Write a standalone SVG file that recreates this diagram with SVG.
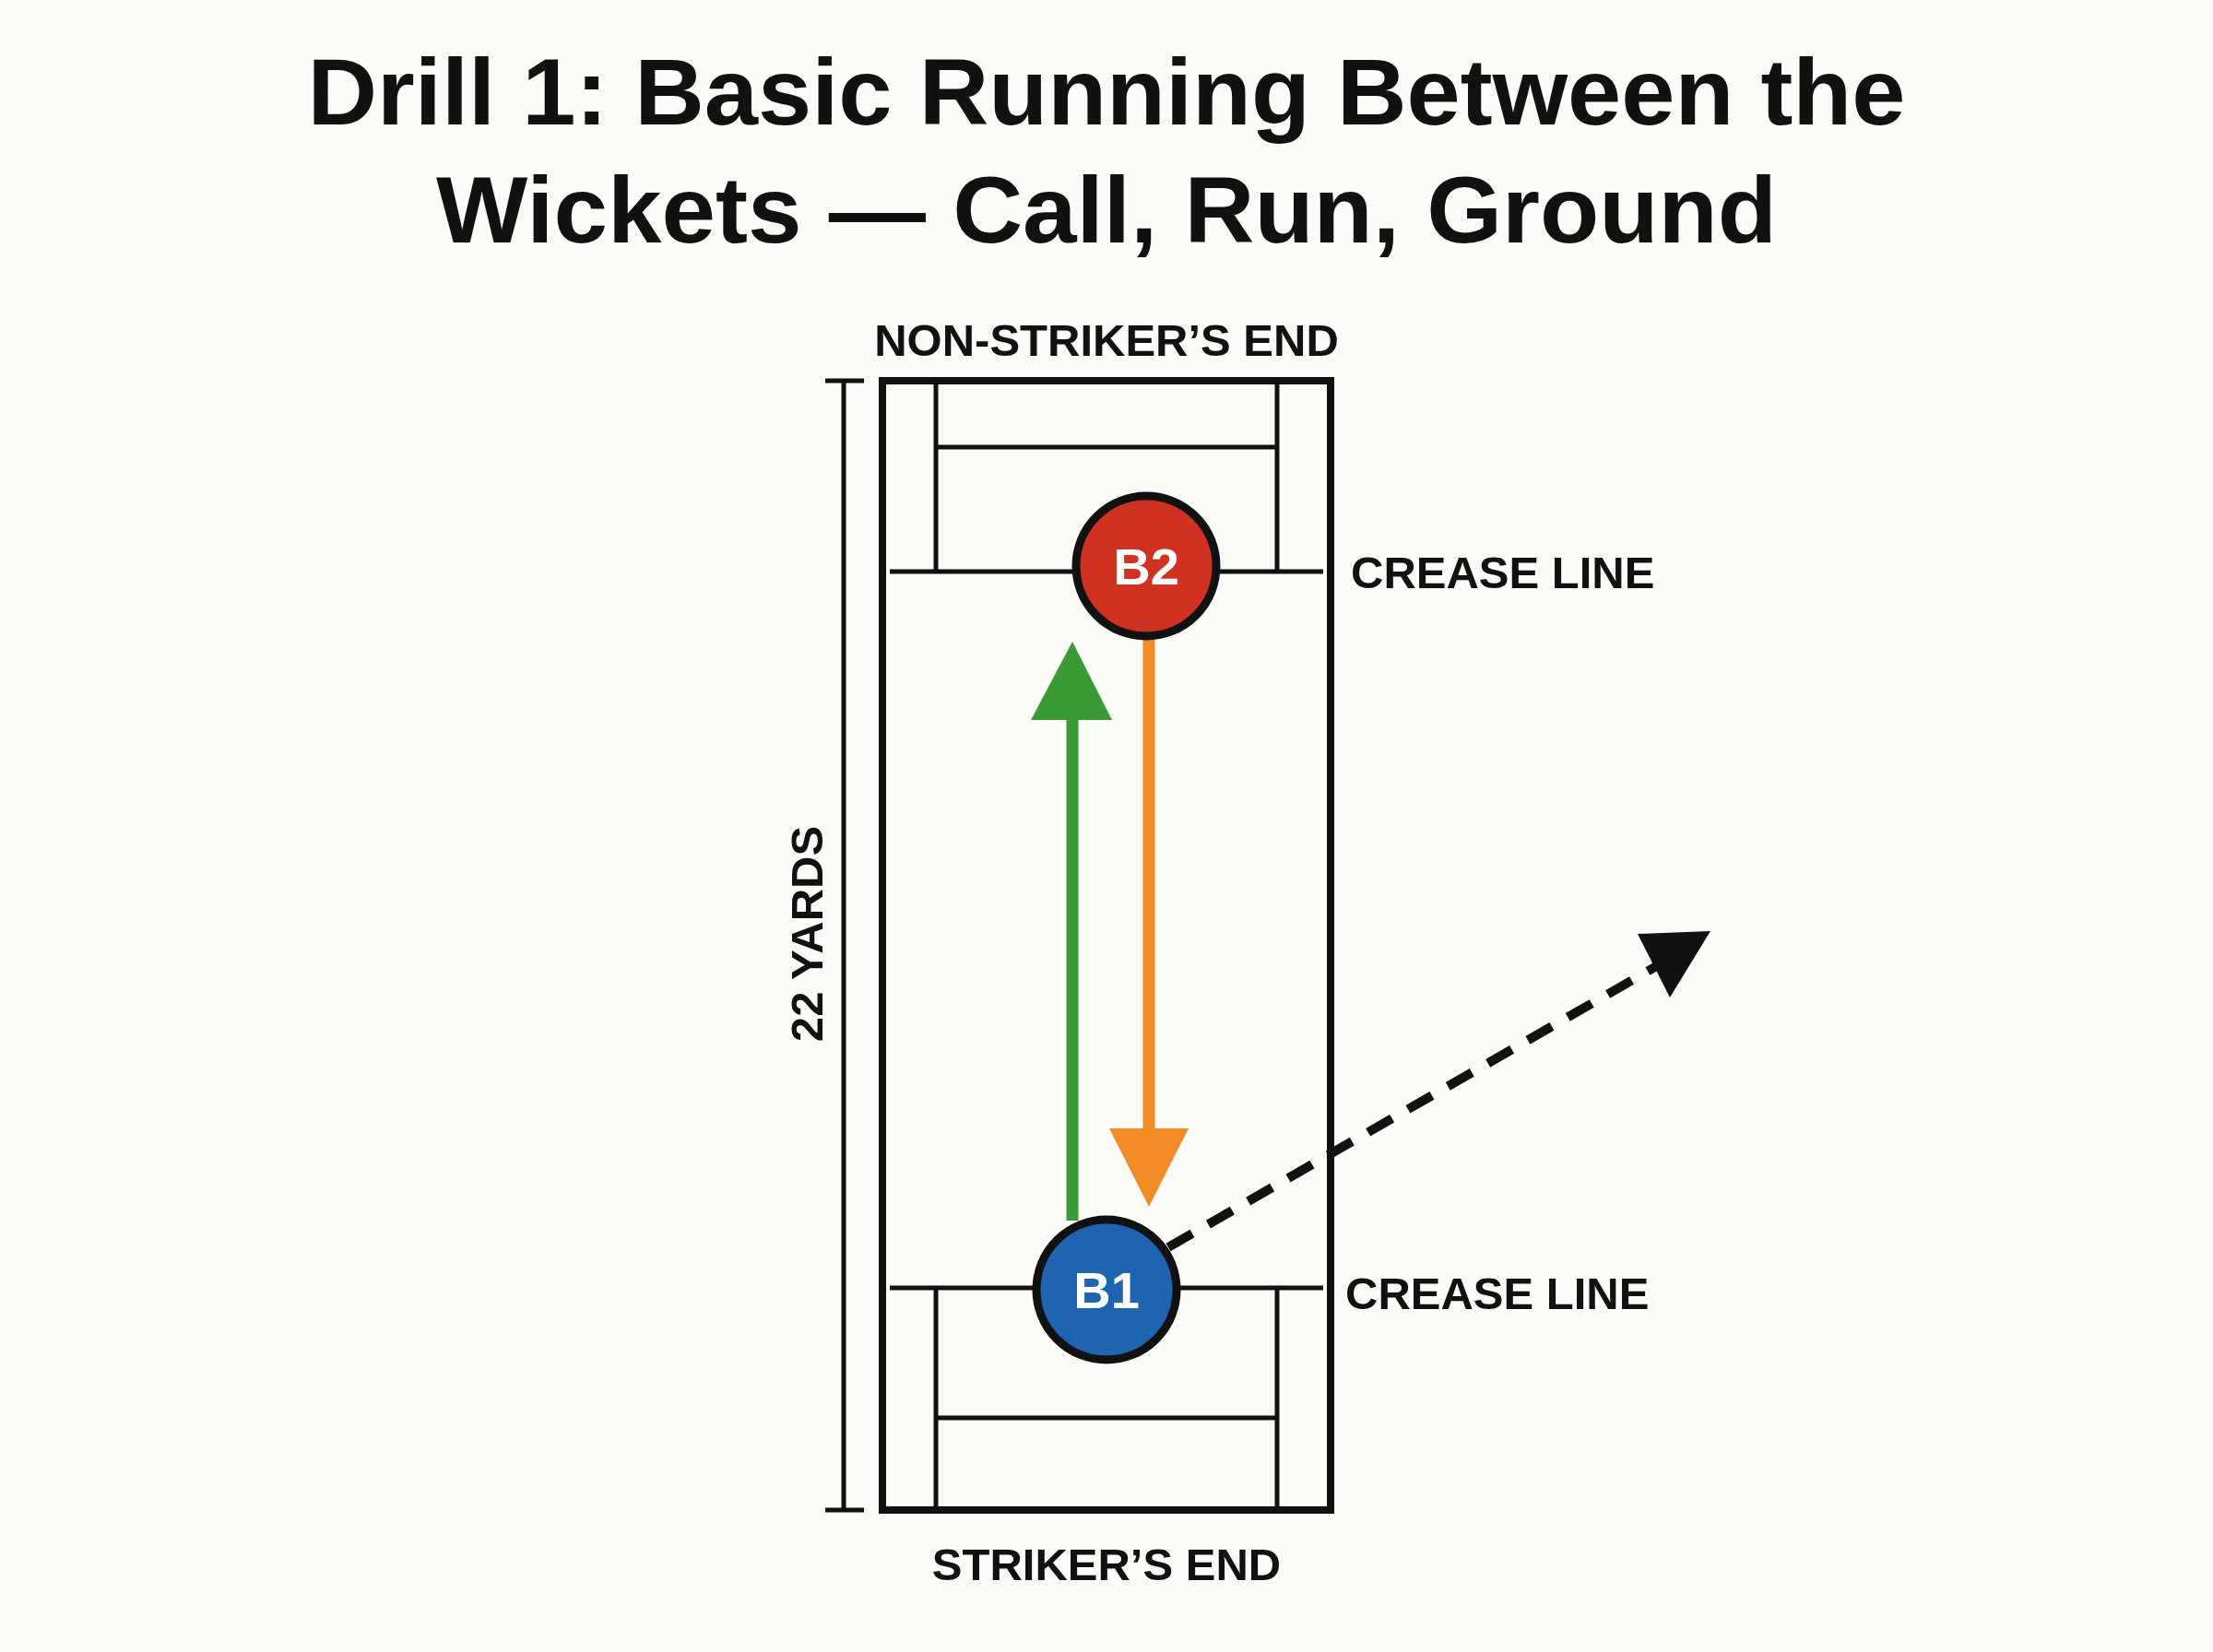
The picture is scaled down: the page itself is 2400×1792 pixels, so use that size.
<svg xmlns="http://www.w3.org/2000/svg" width="2400" height="1792" viewBox="0 0 2400 1792">
<style>
.t{font-family:"Liberation Sans",Arial,sans-serif;fill:#111;font-weight:bold}
.lbl{font-family:"Liberation Sans",Arial,sans-serif;font-weight:bold;font-size:49px;fill:#111}
.ln{stroke:#111;stroke-width:5;fill:none}
.node text{font-family:"Liberation Sans",Arial,sans-serif;font-weight:bold;font-size:56px;fill:#fff;text-anchor:middle}
</style>
<rect width="2400" height="1792" fill="#fbfbf8"/>
<text class="t" x="1200" y="135" font-size="102" text-anchor="middle" textLength="1733" lengthAdjust="spacingAndGlyphs">Drill 1: Basic Running Between the</text>
<text class="t" x="1200" y="263" font-size="102" text-anchor="middle" textLength="1454" lengthAdjust="spacingAndGlyphs">Wickets — Call, Run, Ground</text>
<text class="lbl" x="1200" y="386" text-anchor="middle">NON-STRIKER’S END</text>
<text class="lbl" x="1200" y="1714" text-anchor="middle">STRIKER’S END</text>
<text class="lbl" x="1465" y="638">CREASE LINE</text>
<text class="lbl" x="1459" y="1420">CREASE LINE</text>
<text class="lbl" transform="translate(892 1013) rotate(-90)" text-anchor="middle">22 YARDS</text>
<g id="pitch">
<rect x="957" y="413" width="486" height="1225" fill="none" stroke="#111" stroke-width="8"/>
<path class="ln" d="M1015 413V620M1385 413V620M1015 485H1385M965 620H1435M965 1397H1435M1015 1397V1638M1385 1397V1638M1015 1538H1385"/>
<path class="ln" d="M915 413V1638M895 413H937M895 1638H937" stroke-width="4"/>
</g>
<g id="connectors">
<line x1="1163" y1="1324" x2="1163" y2="775" stroke="#3a9a35" stroke-width="13"/>
<polygon points="1163,696 1118,781 1206,781" fill="#3a9a35"/>
<line x1="1246" y1="692" x2="1246" y2="1230" stroke="#f28a25" stroke-width="13"/>
<polygon points="1246,1309 1203,1224 1289,1224" fill="#f28a25"/>
<line x1="1267" y1="1353" x2="1800" y2="1046" stroke="#111" stroke-width="10" stroke-dasharray="30 20"/>
<polygon points="1855,1010 1776,1013 1811,1082" fill="#111"/>
</g>
<g id="B2" class="node">
<circle cx="1243" cy="614" r="76" fill="#d03222" stroke="#111" stroke-width="9"/>
<text x="1243" y="634">B2</text>
</g>
<g id="B1" class="node">
<circle cx="1200" cy="1399" r="76" fill="#1f64b0" stroke="#111" stroke-width="9"/>
<text x="1200" y="1419">B1</text>
</g>
</svg>
